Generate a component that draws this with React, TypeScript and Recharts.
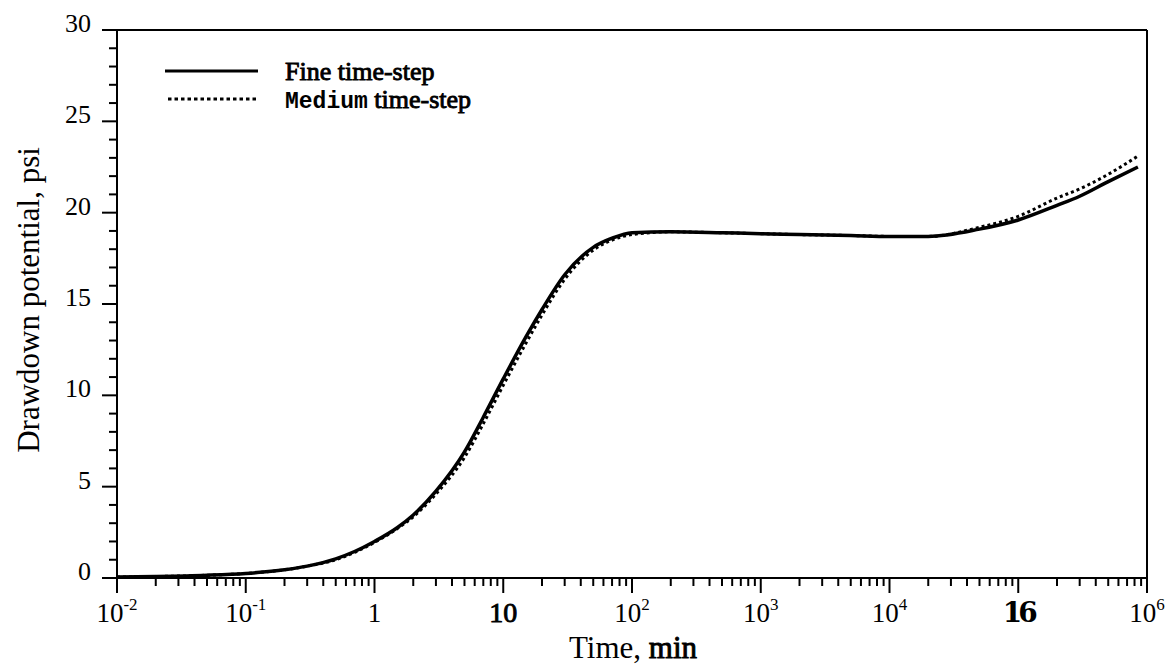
import React from 'react';
import { LineChart, Line, XAxis, YAxis, ReferenceLine } from 'recharts';

// time, min (log scale)
const times = [0.01, 0.02, 0.05, 0.1, 0.2, 0.3, 0.5, 0.7, 1, 1.5, 2, 3, 5, 7, 10, 15, 20, 30, 50, 70, 100, 200, 500, 1000, 2000, 5000, 1e4, 2e4, 5e4, 1e5, 2e5, 3e5, 5e5, 8.5e5];
const fineStep = [0.05, 0.08, 0.15, 0.25, 0.45, 0.65, 1.05, 1.45, 2.0, 2.75, 3.45, 4.75, 6.9, 8.8, 10.9, 13.2, 14.7, 16.6, 18.1, 18.6, 18.9, 18.95, 18.9, 18.85, 18.8, 18.75, 18.7, 18.7, 19.1, 19.6, 20.4, 20.9, 21.7, 22.5];
const mediumStep = [0.05, 0.08, 0.15, 0.25, 0.45, 0.65, 1.0, 1.4, 1.95, 2.7, 3.35, 4.6, 6.6, 8.45, 10.55, 12.85, 14.4, 16.35, 17.95, 18.5, 18.8, 18.95, 18.9, 18.85, 18.8, 18.75, 18.7, 18.7, 19.2, 19.8, 20.8, 21.3, 22.1, 23.1];

const xMajorTicks = [0.01, 0.1, 1, 10, 100, 1000, 1e4, 1e5, 1e6];
const xTickLabels = ['10^-2', '10^-1', '1', '10', '10^2', '10^3', '10^4', '16', '10^6'];
const xBoldLabels = ['10', '16'];
const yTicks = Array.from({ length: 31 }, (_, i) => i);
const yMajorTicks = [0, 5, 10, 15, 20, 25, 30];

const seriesNames = ['Fine time-step', 'Medium time-step'];

const data = times.map((t, i) => ({ t, fine: fineStep[i], medium: mediumStep[i] }));

const xTicks: number[] = [];
xMajorTicks.forEach((m, i) => {
  xTicks.push(m);
  if (i < xMajorTicks.length - 1) for (let k = 2; k <= 9; k++) xTicks.push(m * k);
});

const SERIF = "'Liberation Serif', 'Times New Roman', serif";
const MONO = "'Liberation Mono', monospace";
// Liberation Serif has no bold face here, so thicken the regular one with a stroke
const fauxBold = { stroke: '#000', strokeWidth: 0.9 };

const XTick = (props: any) => {
  const { x, y, payload } = props;
  const idx = xMajorTicks.indexOf(payload.value);
  if (idx < 0) return <line x1={x} y1={y} x2={x} y2={y + 8} stroke="#000" strokeWidth={2} />;
  const label = xTickLabels[idx];
  const [base, exp] = label.split('^');
  const bold = xBoldLabels.includes(label);
  if (label === '16') {
    return (
      <g>
        <line x1={x} y1={y} x2={x} y2={y + 15} stroke="#000" strokeWidth={2} />
        <text x={x} y={y + 44} textAnchor="middle" style={{ fontFamily: "'DejaVu Serif', serif", fontSize: 28, fontWeight: 'bold', letterSpacing: -4 }} fill="#000">{base}</text>
      </g>
    );
  }
  return (
    <g>
      <line x1={x} y1={y} x2={x} y2={y + 15} stroke="#000" strokeWidth={2} />
      <text x={x} y={y + 44} textAnchor="middle" style={{ fontFamily: SERIF, fontSize: bold ? 28 : 27 }} fill="#000" {...(bold ? fauxBold : {})}>
        <tspan>{base}</tspan>
        {exp && <tspan dy={-12} style={{ fontSize: 17 }}>{exp}</tspan>}
      </text>
    </g>
  );
};

const YTick = (props: any) => {
  const { x, y, payload } = props;
  if (!yMajorTicks.includes(payload.value)) return <line x1={x} y1={y} x2={x - 8} y2={y} stroke="#000" strokeWidth={2} />;
  return (
    <g>
      <line x1={x} y1={y} x2={x - 15} y2={y} stroke="#000" strokeWidth={2} />
      <text x={x - 26} y={y + 2} textAnchor="end" style={{ fontFamily: SERIF, fontSize: 26 }} fill="#000">{payload.value}</text>
    </g>
  );
};

const LegendBox = () => (
  <svg width={420} height={60} style={{ position: 'absolute', left: 160, top: 57 }}>
    <line x1={5} y1={14} x2={98} y2={14} stroke="#000" strokeWidth={3} />
    <text x={125} y={23} style={{ fontFamily: SERIF, fontSize: 26 }} fill="#000" {...fauxBold}>{seriesNames[0]}</text>
    <line x1={8} y1={42} x2={98} y2={42} stroke="#000" strokeWidth={3} strokeDasharray="3.5 3" />
    <text x={125} y={51} style={{ fontSize: 26 }} fill="#000">
      <tspan style={{ fontFamily: MONO, fontSize: 23, fontWeight: 'bold' }}>{seriesNames[1].split(' ')[0]}</tspan>
      <tspan style={{ fontFamily: SERIF }} {...fauxBold}>{' ' + seriesNames[1].split(' ').slice(1).join(' ')}</tspan>
    </text>
  </svg>
);

const App: React.FC = () => {
  return (
    <div style={{ position: 'absolute', left: 0, top: 0, width: 1171, height: 665, background: '#fff', overflow: 'hidden' }}>
      <LineChart width={1171} height={665} data={data} margin={{ top: 30, right: 24, left: 0, bottom: 0 }}>
        <XAxis
          dataKey="t"
          type="number"
          scale="log"
          domain={[0.01, 1e6]}
          ticks={xTicks}
          interval={0}
          allowDataOverflow
          tickSize={0}
          tickMargin={0}
          tickLine={false}
          tick={<XTick />}
          axisLine={{ stroke: '#000', strokeWidth: 2 }}
          height={87}
        />
        <YAxis
          type="number"
          domain={[0, 30]}
          ticks={yTicks}
          interval={0}
          tickSize={0}
          tickMargin={0}
          tickLine={false}
          tick={<YTick />}
          axisLine={{ stroke: '#000', strokeWidth: 2 }}
          width={117}
        />
        <ReferenceLine y={30} stroke="#000" strokeWidth={2} />
        <ReferenceLine x={1e6} stroke="#000" strokeWidth={2} />
        <Line type="monotone" dataKey="fine" name={seriesNames[0]} stroke="#000" strokeWidth={3.5} dot={false} isAnimationActive={false} />
        <Line type="monotone" dataKey="medium" name={seriesNames[1]} stroke="#000" strokeWidth={3} strokeDasharray="3 3" dot={false} isAnimationActive={false} />
      </LineChart>
      <LegendBox />
      <svg width={1171} height={665} style={{ position: 'absolute', left: 0, top: 0, pointerEvents: 'none' }}>
        <text x={633} y={658} textAnchor="middle" style={{ fontFamily: SERIF, fontSize: 31 }} fill="#000">
          <tspan>Time, </tspan>
          <tspan {...fauxBold}>min</tspan>
        </text>
        <text x={39} y={300} textAnchor="middle" transform="rotate(-90 39 300)" style={{ fontFamily: SERIF, fontSize: 31 }} fill="#000">
          Drawdown potential, psi
        </text>
      </svg>
    </div>
  );
};

export default App;
